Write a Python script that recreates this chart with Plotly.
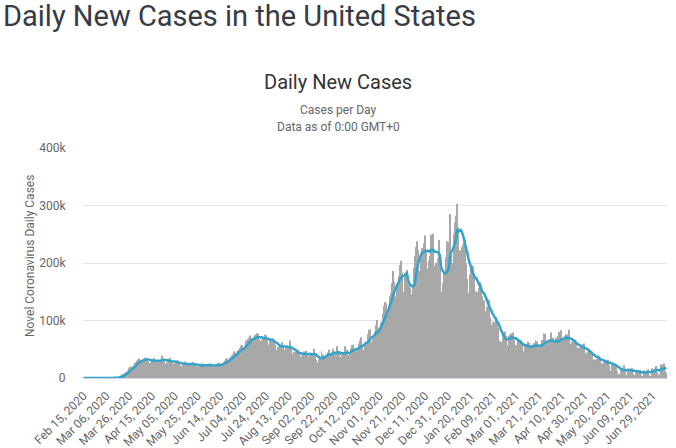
import pandas as pd
import plotly.graph_objects as go

# ---- data (daily new cases, thousands) ----
start_date = "2020-02-15"

feb_2020 = [0, 0, 0, 0, 0, 0, 0.02, 0, 0, 0, 0.01, 0, 0.01, 0.01, 0.01]
mar_2020 = [0.01, 0.03, 0.02, 0.03, 0.07, 0.07, 0.1,
            0.12, 0.2, 0.29, 0.27, 0.44, 0.5, 0.7,
            0.8, 1.1, 1.6, 2.6, 4.3, 5.9, 7.0,
            8.6, 10.5, 10.6, 13.4, 17.8, 18.7, 19.5,
            19.9, 22.1, 26.4]
apr_2020 = [26.5, 29.9, 32.3, 34.0,
            26.6, 30.5, 32.6, 32.8, 35.4, 34.8, 30.6,
            28.9, 26.3, 27.6, 30.9, 32.5, 34.6, 29.3,
            28.7, 26.5, 28.0, 30.1, 33.4, 39.1, 34.6,
            27.9, 24.8, 26.8, 28.6, 31.0]
may_2020 = [35.0, 29.0,
            27.0, 24.5, 25.5, 26.0, 30.5, 29.0, 26.5,
            22.0, 20.0, 23.5, 22.5, 28.5, 27.0, 26.0,
            20.0, 23.0, 22.0, 24.0, 28.0, 24.5, 23.0,
            20.5, 20.5, 19.5, 21.0, 23.0, 25.5, 24.5,
            21.0]
jun_2020 = [20.0, 21.5, 21.0, 22.5, 25.5, 24.0, 20.5,
            18.5, 20.5, 22.0, 23.5, 26.0, 26.5, 22.0,
            21.5, 24.5, 27.5, 30.0, 33.5, 34.0, 30.0,
            30.5, 36.0, 39.5, 41.0, 46.5, 44.0, 42.0,
            43.5, 48.5]
jul_2020 = [52.0, 56.5, 57.5, 50.0,
            50.0, 56.0, 65.0, 68.0, 70.0, 74.0, 69.0,
            63.0, 65.0, 70.5, 75.0, 78.0, 77.0, 68.0,
            63.0, 64.0, 67.0, 71.5, 75.5, 74.0, 68.0,
            58.0, 57.5, 64.5, 68.0, 69.0, 67.0]
aug_2020 = [58.0,
            48.0, 48.5, 54.0, 54.5, 58.0, 62.0, 57.0,
            48.0, 49.0, 54.5, 53.0, 53.0, 65.0, 54.0,
            42.0, 39.0, 45.0, 46.0, 45.0, 48.5, 44.0,
            36.0, 36.5, 38.5, 44.5, 46.0, 47.5, 43.0,
            35.0, 37.5]
sep_2020 = [41.0, 40.0, 43.5, 51.0, 43.0,
            31.0, 25.5, 26.5, 33.5, 35.0, 46.5, 41.0,
            35.0, 36.0, 39.5, 40.5, 44.5, 49.0, 42.5,
            36.5, 51.0, 39.5, 40.5, 46.5, 55.0, 45.5,
            35.0, 36.5, 43.5, 40.0]
oct_2020 = [45.0, 55.0, 49.0,
            36.0, 40.0, 43.5, 51.0, 57.5, 58.0, 52.0,
            46.5, 42.0, 51.0, 60.0, 65.5, 71.0, 57.0,
            49.0, 60.5, 63.0, 63.5, 76.0, 84.0, 84.5,
            62.0, 68.5, 74.5, 80.5, 92.0, 101.0, 86.0]
nov_2020 = [85, 96, 98, 112, 126, 132, 130,
            114, 126, 142, 148, 165, 186, 168,
            142, 165, 166, 178, 196, 204, 183,
            150, 176, 180, 188, 118, 162, 158,
            145, 162]
dec_2020 = [192, 212, 228, 238, 222,
            186, 205, 226, 224, 234, 248, 222,
            190, 204, 212, 249, 237, 251, 195,
            191, 200, 208, 240, 205, 125, 150,
            165, 185, 210, 238, 236]
jan_2021 = [170, 285,
            215, 200, 250, 270, 282, 303, 262,
            220, 222, 228, 232, 236, 240, 200,
            172, 148, 180, 190, 196, 194, 172,
            133, 151, 149, 157, 167, 163, 142,
            113]
feb_2021 = [135, 116, 123, 125, 136, 105, 90,
            92, 98, 97, 106, 102, 88, 65,
            54, 63, 72, 70, 81, 73, 57,
            57, 73, 76, 78, 79, 67, 54]
mar_2021 = [57, 58, 67, 66, 66, 58, 41,
            46, 58, 59, 63, 61, 54, 38,
            56, 56, 61, 66, 64, 56, 36,
            55, 57, 66, 78, 77, 63, 43,
            63, 65, 68]
apr_2021 = [79, 70, 62,
            35, 70, 60, 73, 80, 83, 65,
            45, 70, 73, 76, 75, 84, 60,
            42, 63, 62, 65, 66, 63, 52,
            36, 53, 52, 58, 59, 60]
may_2021 = [44, 28,
            46, 40, 45, 47, 46, 32, 21,
            32, 33, 39, 38, 35, 25, 17,
            28, 27, 30, 30, 32, 22, 12,
            23, 22, 25, 23, 24, 12, 7,
            5]
jun_2021 = [18, 15, 16, 22, 12,
            5, 13, 13, 16, 14, 18, 8,
            5, 11, 10, 13, 12, 14, 5,
            3, 13, 11, 12, 13, 15, 5,
            3, 17, 13, 15]
jul_2021 = [18, 21, 10, 5, 8, 24, 21, 23, 25, 12, 9]

tick_labels = ["Feb 15, 2020", "Mar 06, 2020", "Mar 26, 2020", "Apr 15, 2020",
               "May 05, 2020", "May 25, 2020", "Jun 14, 2020", "Jul 04, 2020",
               "Jul 24, 2020", "Aug 13, 2020", "Sep 02, 2020", "Sep 22, 2020",
               "Oct 12, 2020", "Nov 01, 2020", "Nov 21, 2020", "Dec 11, 2020",
               "Dec 31, 2020", "Jan 20, 2021", "Feb 09, 2021", "Mar 01, 2021",
               "Mar 21, 2021", "Apr 10, 2021", "Apr 30, 2021", "May 20, 2021",
               "Jun 09, 2021", "Jun 29, 2021"]
y_tick_vals = [0, 100, 200, 300, 400]
y_tick_text = ["0", "100k", "200k", "300k", "400k"]

daily_k = (feb_2020 + mar_2020 + apr_2020 + may_2020 + jun_2020 + jul_2020 +
           aug_2020 + sep_2020 + oct_2020 + nov_2020 + dec_2020 + jan_2021 +
           feb_2021 + mar_2021 + apr_2021 + may_2021 + jun_2021 + jul_2021)
dates = pd.date_range(start_date, periods=len(daily_k), freq="D")
categories = [d.strftime("%b %d, %Y") for d in dates]
moving_avg = pd.Series(daily_k).rolling(7, min_periods=1).mean().tolist()

# ---- figure ----
W, H = 676, 448
ML, MR, MT, MB = 83, 9, 148, 70
PW, PH = W - ML - MR, H - MT - MB


def px_x(x):
    return (x - ML) / PW


def px_y(y):
    return (H - MB - y) / PH


FONT = "Roboto, 'Open Sans', sans-serif"

fig = go.Figure()
fig.add_trace(go.Bar(
    x=categories, y=daily_k, name="Daily Cases",
    marker=dict(color="#a8a8a8", line=dict(width=0)),
    hoverinfo="x+y",
))
fig.add_trace(go.Scatter(
    x=categories, y=moving_avg, name="7-day moving average",
    mode="lines", line=dict(color="#33a3cc", width=2.5, shape="spline", smoothing=0.6),
    hoverinfo="skip",
))

fig.update_layout(
    width=W, height=H,
    margin=dict(l=ML, r=MR, t=MT, b=MB, autoexpand=False),
    paper_bgcolor="white", plot_bgcolor="white",
    showlegend=False, bargap=0.15,
    font=dict(family=FONT, color="#666666"),
    xaxis=dict(
        type="category", range=[-0.5, len(daily_k) - 0.5],
        tickmode="array", tickvals=tick_labels, ticktext=tick_labels,
        tickangle=-45, tickfont=dict(size=12, color="#666666"),
        showgrid=False, showline=True, linecolor="#ccd6eb", linewidth=1,
        ticks="outside", ticklen=5, tickcolor="rgba(0,0,0,0)",
        zeroline=False, automargin=False,
    ),
    yaxis=dict(
        range=[0, 400], tickmode="array", tickvals=y_tick_vals, ticktext=y_tick_text,
        tickfont=dict(size=12, color="#666666"),
        showgrid=True, gridcolor="#e6e6e6", gridwidth=1,
        zeroline=False, showline=False,
        ticks="outside", ticklen=14, tickcolor="rgba(0,0,0,0)",
        automargin=False,
    ),
    annotations=[
        dict(text="Daily New Cases in the United States", x=px_x(1), y=px_y(16),
             xref="paper", yref="paper", xanchor="left", yanchor="middle",
             showarrow=False, font=dict(size=29, color="#363b45", family=FONT)),
        dict(text="Daily New Cases", x=px_x(338), y=px_y(82),
             xref="paper", yref="paper", xanchor="center", yanchor="middle",
             showarrow=False, font=dict(size=20, color="#333333", family=FONT)),
        dict(text="Cases per Day", x=px_x(338), y=px_y(110),
             xref="paper", yref="paper", xanchor="center", yanchor="middle",
             showarrow=False, font=dict(size=12, color="#666666", family=FONT)),
        dict(text="Data as of 0:00 GMT+0", x=px_x(338), y=px_y(127),
             xref="paper", yref="paper", xanchor="center", yanchor="middle",
             showarrow=False, font=dict(size=12, color="#666666", family=FONT)),
        dict(text="Novel Coronavirus Daily Cases", x=px_x(30), y=px_y(256),
             xref="paper", yref="paper", xanchor="center", yanchor="middle",
             textangle=-90, showarrow=False,
             font=dict(size=12, color="#666666", family=FONT)),
    ],
)

fig.write_html("out.html", config={"displayModeBar": False},
               post_script="document.body.style.margin='0';document.body.style.padding='0';")
